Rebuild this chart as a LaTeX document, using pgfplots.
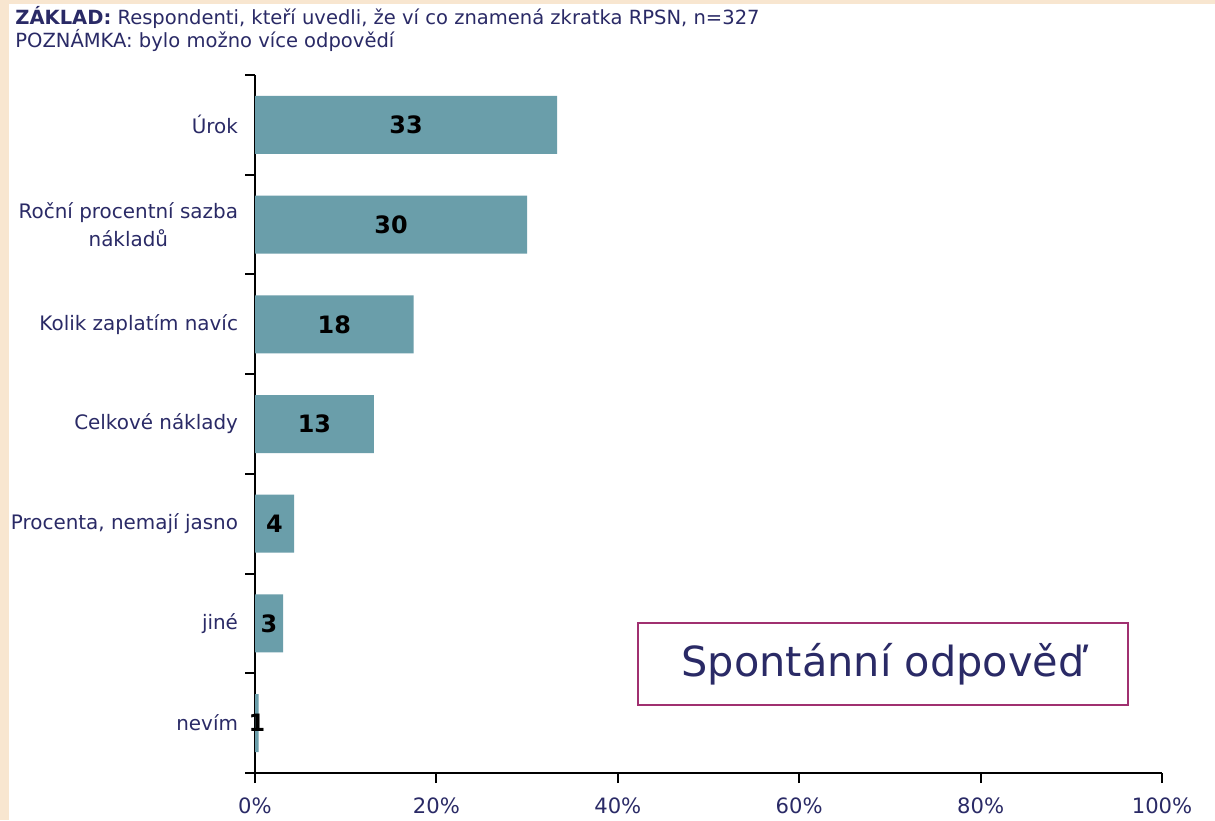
\documentclass[border=0pt]{standalone}
\usepackage{pgfplots}
\pgfplotsset{compat=1.18}
\usepackage{fontspec}
\setmainfont{DejaVu Sans}
\definecolor{beige}{HTML}{F8E6D0}
\definecolor{barc}{HTML}{6A9EAA}
\definecolor{navy}{HTML}{2A2A66}
\definecolor{boxc}{HTML}{A03070}
\begin{document}
\begin{tikzpicture}[x=1bp,y=1bp]
\useasboundingbox (0,0) rectangle (607.5,410);
\fill[beige] (0,0) rectangle (607.5,410);
\fill[white] (4.5,0) rectangle (607.5,408);
\node[anchor=base west,inner sep=0,font=\fontsize{9.8}{11}\selectfont,text=navy] at (7.5,397.5) {\textbf{ZÁKLAD:} Respondenti, kteří uvedli, že ví co znamená zkratka RPSN, n=327};
\node[anchor=base west,inner sep=0,font=\fontsize{9.8}{11}\selectfont,text=navy] at (7.5,386.5) {POZNÁMKA: bylo možno více odpovědí};
\begin{axis}[
  at={(127.5bp,23.5bp)}, anchor=south west,
  scale only axis, width=453.5bp, height=349bp,
  xbar, bar width=29bp, bar shift=0pt,
  xmin=0, xmax=100, ymin=-0.5, ymax=6.5,
  axis lines*=left,
  axis line style={line width=1bp, black},
  xtick={0,20,40,60,80,100},
  xticklabels={0\%,20\%,40\%,60\%,80\%,100\%},
  ytick={0,1,2,3,4,5,6},
  yticklabels={nevím,jiné,{Procenta, nemají jasno},Celkové náklady,Kolik zaplatím navíc,{Roční procentní sazba\\nákladů},Úrok},
  yticklabel style={align=center, text=navy, font=\fontsize{10}{14}\selectfont},
  xticklabel style={text=navy, font=\fontsize{10.6}{12}\selectfont, yshift=-4bp},
  /pgf/number format/assume math mode=true,
  major y tick style={draw=none},
  minor ytick={-0.5,0.5,...,6.5},
  minor y tick style={line width=1bp, black},
  minor tick length=5bp,
  major tick length=5bp,
  x tick style={line width=1bp, black},
  tick align=outside,
  clip=false,
  nodes near coords,
  point meta=explicit symbolic,
  visualization depends on={x \as \rawx},
  every node near coord/.append style={anchor=center, font=\fontsize{12}{12}\selectfont\bfseries, text=black,
     shift={(axis direction cs:-\rawx/2,0)}},
]
\addplot[fill=barc, draw=none] table[meta=lab] {
x y lab
33.3 6 33
30.0 5 30
17.5 4 18
13.1 3 13
4.3 2 4
3.1 1 3
0.4 0 1
};
\end{axis}
\node[draw=boxc, line width=1.2bp, minimum width=245bp, minimum height=41bp, inner sep=0, text=navy, font=\fontsize{20.8}{22}\selectfont] at (441.5,78) {Spontánní odpověď};
\end{tikzpicture}
\end{document}
